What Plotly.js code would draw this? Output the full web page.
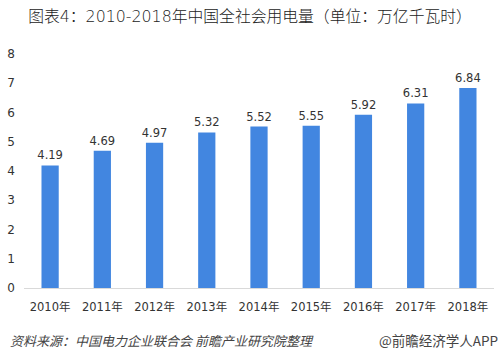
<!DOCTYPE html>
<html>
<head>
<meta charset="utf-8">
<script src="https://cdn.plot.ly/plotly-3.0.1.min.js"></script>
<style>html,body{margin:0;padding:0;background:#fff;}#chart{width:500px;height:359px;}</style>
</head>
<body>
<div id="chart"></div>
<script>
const categories = ["2010年","2011年","2012年","2013年","2014年","2015年","2016年","2017年","2018年"];
const values = [4.19, 4.69, 4.97, 5.32, 5.52, 5.55, 5.92, 6.31, 6.84];
const yTicks = [0,1,2,3,4,5,6,7,8];

const font = "'DejaVu Sans','Noto Sans CJK SC',sans-serif";
const cjk = "'Noto Sans CJK SC','DejaVu Sans',sans-serif";

Plotly.newPlot('chart', [{
  type: 'bar',
  x: categories,
  y: values,
  text: values.map(v => v.toFixed(2)),
  textposition: 'outside',
  constraintext: 'none',
  cliponaxis: false,
  textfont: {size: 11.5, color: '#333', family: font},
  marker: {color: '#4286e0'},
  width: 0.33,
  hoverinfo: 'none'
}], {
  width: 500, height: 359,
  margin: {l: 24, r: 6, t: 54, b: 71},
  paper_bgcolor: '#fff', plot_bgcolor: '#fff',
  font: {family: font, size: 12, color: '#333'},
  showlegend: false,
  title: {text: '图表4：2010-2018年中国全社会用电量（单位：万亿千瓦时）', x: 0.5, xanchor: 'center', y: 0.955, yanchor: 'middle', font: {size: 15.8, color: '#222', family: font, weight: 300}},
  xaxis: {
    type: 'category', showgrid: false, zeroline: false,
    showline: true, linecolor: '#d9d9d9', linewidth: 1,
    ticks: '', ticklabelstandoff: 8, tickfont: {size: 11.5, color: '#333', family: font}, fixedrange: true
  },
  yaxis: {
    range: [0, 8], tickvals: yTicks, ticktext: yTicks.map(String),
    showgrid: false, zeroline: false, showline: false,
    ticks: '', ticklabelstandoff: 8, tickfont: {size: 12, color: '#333', family: font}, fixedrange: true
  },
  annotations: [
    {text: '资料来源：中国电力企业联合会 前瞻产业研究院整理', xref: 'paper', yref: 'paper', x: -0.035, xanchor: 'left', y: 0, yshift: -52, yanchor: 'middle', showarrow: false, font: {size: 13, color: '#444', family: cjk, style: 'italic'}},
    {text: '@前瞻经济学人APP', xref: 'paper', yref: 'paper', x: 1.013, xanchor: 'right', y: 0, yshift: -52, yanchor: 'middle', showarrow: false, font: {size: 13.5, color: '#444', family: cjk}}
  ]
}, {displayModeBar: false, staticPlot: true});
</script>
</body>
</html>
